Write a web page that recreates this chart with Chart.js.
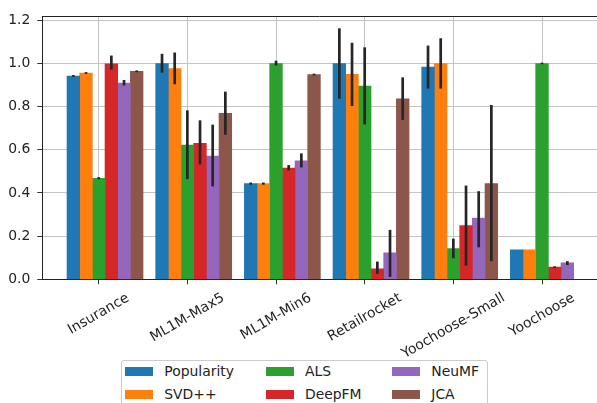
<!DOCTYPE html>
<html><head><meta charset="utf-8">
<script src="https://cdn.jsdelivr.net/npm/chart.js@4"></script>
<style>
html,body{margin:0;padding:0;background:#fff;overflow:hidden;}
#wrap{position:relative;width:597px;height:403px;overflow:hidden;}
canvas{position:absolute;left:0;top:0;}
#legend{position:absolute;left:120.5px;top:359.5px;width:367px;height:70px;border:1px solid #cccccc;border-radius:3px;background:#fff;box-sizing:border-box;}
.sw{position:absolute;width:28px;height:9px;}
.lt{position:absolute;font-family:"DejaVu Sans";font-size:13.9px;line-height:16px;color:#222;white-space:nowrap;}
</style></head><body>
<div id="wrap"><canvas id="c" width="597" height="403"></canvas></div>
<script>
const categories = ['Insurance','ML1M-Max5','ML1M-Min6','Retailrocket','Yoochoose-Small','Yoochoose'];
const seriesNames = ['Popularity','SVD++','ALS','DeepFM','NeuMF','JCA'];
const seriesColors = ['#1f77b4','#ff7f0e','#2ca02c','#d62728','#9467bd','#8c564b'];

const popularity     = [0.941, 0.999, 0.443, 0.999, 0.982, 0.136];
const popularityLow  = [0.939, 0.957, 0.438, 0.836, 0.883, null];
const popularityHigh = [0.944, 1.044, 0.448, 1.162, 1.082, null];

const svdpp     = [0.955, 0.975, 0.443, 0.949, 0.999, 0.136];
const svdppLow  = [0.953, 0.903, 0.438, 0.802, 0.883, null];
const svdppHigh = [0.957, 1.050, 0.448, 1.095, 1.116, null];

const als     = [0.468, 0.621, 0.999, 0.895, 0.142, 0.999];
const alsLow  = [0.463, 0.464, 0.990, 0.717, 0.097, 0.996];
const alsHigh = [0.473, 0.782, 1.012, 1.074, 0.188, 1.003];

const deepfm     = [0.998, 0.629, 0.515, 0.049, 0.249, 0.056];
const deepfmLow  = [0.971, 0.532, 0.504, 0.025, 0.063, 0.052];
const deepfmHigh = [1.036, 0.736, 0.529, 0.082, 0.434, 0.060];

const neumf     = [0.909, 0.571, 0.549, 0.122, 0.283, 0.076];
const neumfLow  = [0.897, 0.430, 0.518, 0.011, 0.148, 0.066];
const neumfHigh = [0.923, 0.716, 0.583, 0.229, 0.408, 0.084];

const jca     = [0.963, 0.768, 0.948, 0.835, 0.443, null];
const jcaLow  = [0.960, 0.669, 0.946, 0.738, 0.084, null];
const jcaHigh = [0.966, 0.869, 0.950, 0.935, 0.807, null];

const yTicks = [0.0, 0.2, 0.4, 0.6, 0.8, 1.0, 1.2];

const seriesValues = [popularity, svdpp, als, deepfm, neumf, jca];
const seriesLow = [popularityLow, svdppLow, alsLow, deepfmLow, neumfLow, jcaLow];
const seriesHigh = [popularityHigh, svdppHigh, alsHigh, deepfmHigh, neumfHigh, jcaHigh];

const BAR_W = 1/7;
const datasets = seriesNames.map((name, k) => ({
  label: name,
  backgroundColor: seriesColors[k],
  borderWidth: 0,
  grouped: false,
  barPercentage: 1,
  categoryPercentage: 1,
  data: seriesValues[k].map((v, i) => ({x: i + (k - 2) * BAR_W, y: v})),
  errLow: seriesLow[k],
  errHigh: seriesHigh[k]
}));

const FONT = 'DejaVu Sans';
const FSIZE = 13.9;

const errorBars = {
  id: 'errorBars',
  afterDatasetsDraw(chart) {
    const ctx = chart.ctx, ys = chart.scales.y;
    ctx.save();
    ctx.strokeStyle = '#262626';
    ctx.lineWidth = 2.7;
    ctx.lineCap = 'butt';
    chart.data.datasets.forEach((ds, k) => {
      const meta = chart.getDatasetMeta(k);
      meta.data.forEach((bar, i) => {
        const lo = ds.errLow[i], hi = ds.errHigh[i];
        if (lo == null || hi == null) return;
        let y1 = ys.getPixelForValue(lo), y2 = ys.getPixelForValue(hi);
        if (Math.abs(y1 - y2) < 1.5) { const m = (y1 + y2) / 2; y1 = m + 0.9; y2 = m - 0.9; }
        ctx.beginPath();
        ctx.moveTo(bar.x, y1);
        ctx.lineTo(bar.x, y2);
        ctx.stroke();
      });
    });
    ctx.restore();
  }
};

const frameAndLabels = {
  id: 'frameAndLabels',
  afterDraw(chart) {
    const ctx = chart.ctx, a = chart.chartArea, xs = chart.scales.x;
    ctx.save();
    ctx.strokeStyle = '#222';
    ctx.lineWidth = 1;
    ctx.beginPath();
    ctx.moveTo(a.left, a.top + 0.5);
    ctx.lineTo(a.right, a.top + 0.5);
    ctx.stroke();
    ctx.font = FSIZE + 'px "' + FONT + '"';
    ctx.fillStyle = '#222';
    ctx.textAlign = 'center';
    ctx.textBaseline = 'middle';
    const ang = 30 * Math.PI / 180;
    const h = FSIZE * 1.164;
    categories.forEach((lab, i) => {
      const w = ctx.measureText(lab).width;
      const H = w * Math.sin(ang) + h * Math.cos(ang);
      const cx = xs.getPixelForValue(i);
      const cy = a.bottom + 9.7 + H / 2 + 1;
      ctx.save();
      ctx.translate(cx, cy);
      ctx.rotate(-ang);
      ctx.fillText(lab, 0, 0);
      ctx.restore();
    });
    ctx.restore();
  }
};

const gridColor = '#c4c4c4';
const chart = new Chart(document.getElementById('c'), {
  type: 'bar',
  data: { datasets },
  options: {
    responsive: false,
    animation: false,
    devicePixelRatio: 1,
    layout: { padding: { top: 16, left: 0, right: 0, bottom: 0 } },
    plugins: { legend: { display: false }, tooltip: { enabled: false } },
    scales: {
      x: {
        type: 'linear',
        offset: false,
        min: -0.636,
        max: 5.62,
        z: 1,
        grid: { offset: false, color: gridColor, lineWidth: 1, drawTicks: true, tickLength: 5, tickColor: '#333', tickWidth: 1 },
        border: { display: true, color: '#222', width: 1 },
        ticks: { display: false },
        afterBuildTicks: s => { s.ticks = categories.map((_, i) => ({ value: i })); },
        afterFit: s => { s.height = 403 - 279.3; }
      },
      y: {
        type: 'linear',
        min: 0,
        max: 1.219,
        z: 1,
        grid: { color: gridColor, lineWidth: 1, drawTicks: true, tickLength: 5, tickColor: '#333', tickWidth: 1 },
        border: { display: true, color: '#222', width: 1 },
        ticks: {
          padding: 7,
          color: '#222',
          font: { family: FONT, size: FSIZE },
          callback: v => Number(v).toFixed(1)
        },
        afterBuildTicks: s => { s.ticks = yTicks.map(v => ({ value: v })); },
        afterFit: s => { s.width = 42.3; }
      }
    }
  },
  plugins: [errorBars, frameAndLabels]
});

// Legend (matplotlib-style, column-major, 3 columns)
const wrap = document.getElementById('wrap');
const legendBox = document.createElement('div');
legendBox.id = 'legend';
wrap.appendChild(legendBox);
const colX = [125, 265.7, 392];
const rowY = [371.5, 394.3];
chart.data.datasets.forEach((ds, k) => {
  const col = Math.floor(k / 2), row = k % 2;
  const sw = document.createElement('div');
  sw.className = 'sw';
  sw.style.left = colX[col] + 'px';
  sw.style.top = (rowY[row] - 4.5) + 'px';
  sw.style.background = ds.backgroundColor;
  wrap.appendChild(sw);
  const t = document.createElement('div');
  t.className = 'lt';
  t.style.left = (colX[col] + 39.3) + 'px';
  t.style.top = (rowY[row] - 8.5) + 'px';
  t.textContent = ds.label;
  wrap.appendChild(t);
});
</script>
</body></html>
